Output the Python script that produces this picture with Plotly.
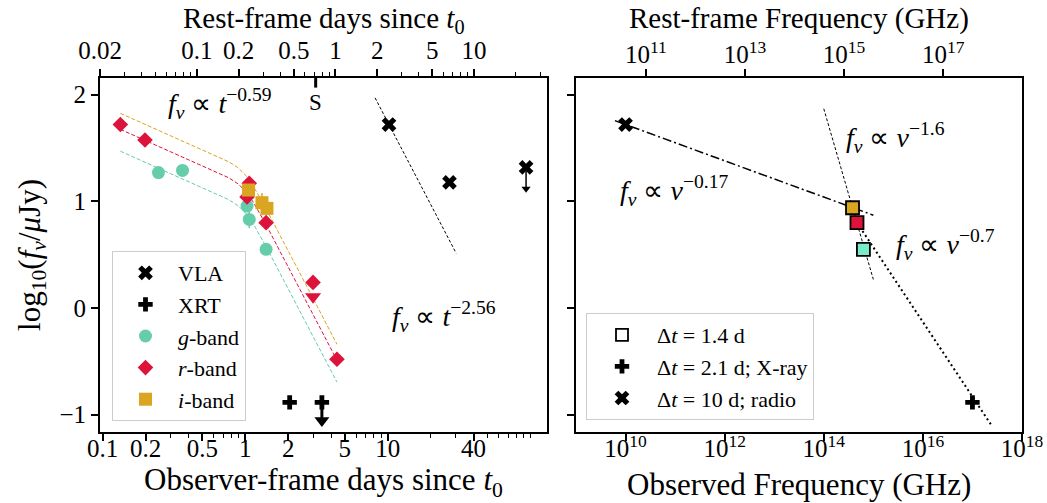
import numpy as np
import plotly.graph_objects as go

FONT = "Liberation Serif"

# ---------------- light curve (observer-frame days, log10 f_nu / uJy) ----------------
g_days = [0.246, 0.363, 1.03, 1.067, 1.40]
g_flux = [1.27, 1.29, 0.956, 0.83, 0.55]
g_err = [0.03, 0.03, 0.04, 0.08, 0.04]

r_days = [0.133, 0.198, 1.03, 1.067, 1.40, 2.99, 4.40]
r_flux = [1.72, 1.575, 1.04, 1.17, 0.80, 0.24, -0.48]
r_err = [0.03, 0.03, 0.04, 0.04, 0.04, 0.05, 0.06]

r_lim_days = [2.99]
r_lim_flux = [0.106]

i_days = [1.055, 1.31, 1.42]
i_flux = [1.106, 0.987, 0.934]
i_err = [0.03, 0.09, 0.04]

vla_days = [10.2, 27.1, 93.4]
vla_flux = [1.72, 1.178, 1.318]
vla_limit = [False, False, True]

xrt_days = [2.05, 3.45]
xrt_flux = [-0.884, -0.884]
xrt_limit = [False, True]

# broken power-law fit to the optical light curve
alpha_early = 0.59
alpha_late = 2.56
t_break = 1.0
smooth = 5.0
fit_norm = {"g": 0.953, "r": 1.158, "i": 1.308}
fit_span = (0.133, 4.4)

# radio decline, anchored on the first VLA epoch
radio_fit_span = (8.15, 30.2)

# epoch of the spectrum
spec_epoch = 3.12

# ---------------- SED at 1.4 d (log10 nu, log10 f_nu) ----------------
sed_lognu = [14.80, 14.67, 14.58]
sed_flux = [0.55, 0.80, 0.94]
sed_err = [0.02, 0.02, 0.02]
sed_colors = ["#78ecc8", "#dc143c", "#daa520"]

xray_lognu = [17.0]
xray_flux = [-0.884]
radio_lognu = [10.0]
radio_flux = [1.72]

beta_ro = 0.17          # radio -> optical
beta_ro_span = (9.785, 15.0)
beta_opt = 1.6          # within optical
beta_opt_span = (14.0, 15.0)
beta_ox = 0.7           # optical -> X-ray
beta_ox_span = (14.67, 17.4)

redshift_factor = 3.9

G_COL, R_COL, I_COL = "#66cdaa", "#dc143c", "#daa520"

Y_RANGE = [-1.162, 2.156]
X_RANGE_DAYS = [0.0957, 131.0]
X_RANGE_NU = [9.0, 18.0]

bottom_days = [0.1, 0.2, 0.5, 1, 2, 5, 10, 40]
bottom_minor = [0.3, 0.4, 0.6, 0.7, 0.8, 0.9, 3, 4, 6, 7, 8, 9, 20, 30, 50, 60, 70, 80, 90, 100]
top_days = [0.02, 0.1, 0.2, 0.5, 1, 2, 5, 10]
top_minor = [0.03, 0.04, 0.05, 0.06, 0.07, 0.08, 0.09, 0.3, 0.4, 0.6, 0.7, 0.8, 0.9, 3, 4, 6, 7, 8, 9, 20, 30]
nu_ticks = [10, 12, 14, 16, 18]
nu_rest_ticks = [11, 13, 15, 17]
y_ticks = [-1, 0, 1, 2]

fig = go.Figure()


def bpl(t, norm):
    x = np.asarray(t) / t_break
    return norm - np.log10(x ** (alpha_early * smooth) + x ** (alpha_late * smooth)) / smooth


# ---- fit curves
t_fit = np.logspace(np.log10(fit_span[0]), np.log10(fit_span[1]), 200)
for band, col in (("g", G_COL), ("r", R_COL), ("i", I_COL)):
    fig.add_trace(go.Scatter(x=t_fit, y=bpl(t_fit, fit_norm[band]), mode="lines",
                             line=dict(color=col, width=1, dash="4px,2px"),
                             showlegend=False, hoverinfo="skip", xaxis="x", yaxis="y"))

t_rad = np.array(radio_fit_span)
fig.add_trace(go.Scatter(x=t_rad, y=vla_flux[0] - alpha_late * (np.log10(t_rad) - np.log10(vla_days[0])),
                         mode="lines", line=dict(color="black", width=1, dash="3px,2px"),
                         showlegend=False, hoverinfo="skip", xaxis="x", yaxis="y"))

# carrier traces so the secondary (top) axes are laid out
fig.add_trace(go.Scatter(x=top_days, y=[None] * len(top_days), mode="markers", showlegend=False,
                         hoverinfo="skip", xaxis="x2", yaxis="y"))
fig.add_trace(go.Scatter(x=[10 ** v for v in nu_rest_ticks], y=[None] * len(nu_rest_ticks), mode="markers",
                         showlegend=False, hoverinfo="skip", xaxis="x4", yaxis="y2"))


# ---- upper-limit arrows
def limit_arrows(days, flux, flags, length, width, size, xa, ya):
    xs, ys, hx, hy = [], [], [], []
    for t, f, lim in zip(days, flux, flags):
        if lim:
            xs += [t, t, None]
            ys += [f, f - length, None]
            hx.append(t)
            hy.append(f - length)
    fig.add_trace(go.Scatter(x=xs, y=ys, mode="lines", line=dict(color="black", width=width),
                             showlegend=False, hoverinfo="skip", xaxis=xa, yaxis=ya))
    fig.add_trace(go.Scatter(x=hx, y=hy, mode="markers",
                             marker=dict(symbol="triangle-down", size=size, color="black"),
                             showlegend=False, hoverinfo="skip", xaxis=xa, yaxis=ya))


limit_arrows(vla_days, vla_flux, vla_limit, 0.2, 1.5, 8, "x", "y")
limit_arrows(xrt_days, xrt_flux, xrt_limit, 0.17, 3, 13, "x", "y")

# ---- spectrum epoch tick
fig.add_trace(go.Scatter(x=[spec_epoch, spec_epoch], y=[Y_RANGE[1], Y_RANGE[1] - 0.09], mode="lines",
                         line=dict(color="black", width=3), showlegend=False, hoverinfo="skip",
                         cliponaxis=False, xaxis="x", yaxis="y"))

# ---- light-curve markers (legend order)
fig.add_trace(go.Scatter(x=vla_days, y=vla_flux, mode="markers", name="VLA",
                         marker=dict(symbol="x", size=13, color="black"),
                         legend="legend", xaxis="x", yaxis="y"))
fig.add_trace(go.Scatter(x=xrt_days, y=xrt_flux, mode="markers", name="XRT",
                         marker=dict(symbol="cross", size=12, color="black"),
                         legend="legend", xaxis="x", yaxis="y"))
fig.add_trace(go.Scatter(x=g_days, y=g_flux, mode="markers", name="<i>g</i>-band",
                         error_y=dict(type="data", array=g_err, color=G_COL, thickness=1.5, width=0),
                         marker=dict(symbol="circle", size=13, color=G_COL),
                         legend="legend", xaxis="x", yaxis="y"))
fig.add_trace(go.Scatter(x=r_lim_days, y=r_lim_flux, mode="markers", showlegend=False,
                         marker=dict(symbol="triangle-down", size=14, color=R_COL),
                         xaxis="x", yaxis="y"))
fig.add_trace(go.Scatter(x=r_days, y=r_flux, mode="markers", name="<i>r</i>-band",
                         error_y=dict(type="data", array=r_err, color=R_COL, thickness=1.5, width=0),
                         marker=dict(symbol="diamond", size=12, color=R_COL),
                         legend="legend", xaxis="x", yaxis="y"))
fig.add_trace(go.Scatter(x=i_days, y=i_flux, mode="markers", name="<i>i</i>-band",
                         error_y=dict(type="data", array=i_err, color=I_COL, thickness=1.5, width=0),
                         marker=dict(symbol="square", size=13, color=I_COL),
                         legend="legend", xaxis="x", yaxis="y"))


# ---------------- SED panel ----------------
def power_line(anchor_nu, anchor_f, beta, span):
    nu = np.array(span)
    return 10 ** nu, anchor_f - beta * (nu - anchor_nu)


x1, y1 = power_line(radio_lognu[0], radio_flux[0], beta_ro, beta_ro_span)
fig.add_trace(go.Scatter(x=x1, y=y1, mode="lines", line=dict(color="black", width=1.5, dash="9px,3px,2px,3px"),
                         showlegend=False, hoverinfo="skip", xaxis="x3", yaxis="y2"))
x2, y2 = power_line(sed_lognu[2], sed_flux[2], beta_opt, beta_opt_span)
fig.add_trace(go.Scatter(x=x2, y=y2, mode="lines", line=dict(color="black", width=1, dash="3px,2px"),
                         showlegend=False, hoverinfo="skip", xaxis="x3", yaxis="y2"))
x3, y3 = power_line(sed_lognu[1], sed_flux[1], beta_ox, beta_ox_span)
fig.add_trace(go.Scatter(x=x3, y=y3, mode="lines", line=dict(color="black", width=2, dash="2px,3px"),
                         showlegend=False, hoverinfo="skip", xaxis="x3", yaxis="y2"))

fig.add_trace(go.Scatter(x=[10 ** v for v in sed_lognu], y=sed_flux, mode="markers", showlegend=False,
                         error_y=dict(type="data", array=sed_err, color="black", thickness=1, width=0),
                         marker=dict(symbol="square", size=13, color=sed_colors,
                                     line=dict(color="black", width=1.8)),
                         xaxis="x3", yaxis="y2"))
fig.add_trace(go.Scatter(x=[None], y=[None], mode="markers", name="Δ<i>t</i> = 1.4 d",
                         marker=dict(symbol="square", size=12, color="white", line=dict(color="black", width=1.8)),
                         legend="legend2", xaxis="x3", yaxis="y2"))
fig.add_trace(go.Scatter(x=[10 ** v for v in xray_lognu], y=xray_flux, mode="markers",
                         name="Δ<i>t</i> = 2.1 d; X-ray",
                         marker=dict(symbol="cross", size=12, color="black"),
                         legend="legend2", xaxis="x3", yaxis="y2"))
fig.add_trace(go.Scatter(x=[10 ** v for v in radio_lognu], y=radio_flux, mode="markers",
                         name="Δ<i>t</i> = 10 d; radio",
                         marker=dict(symbol="x", size=13, color="black"),
                         legend="legend2", xaxis="x3", yaxis="y2"))

# ---------------- layout ----------------
ML, MR, MT, MB = 100, 25, 78, 71
W, H = 1047, 503
PW = W - ML - MR
PH = H - MT - MB
L_DOM = [0, (547 - ML) / PW]
R_DOM = [(576 - ML) / PW, 1]

axis_common = dict(showline=True, linecolor="black", linewidth=2, ticks="outside", ticklen=7,
                   tickwidth=1.5, tickcolor="black", showgrid=False, zeroline=False, automargin=False,
                   tickfont=dict(family=FONT, size=25, color="black"))
title_font = dict(family=FONT, size=31, color="black")
top_title_font = dict(family=FONT, size=29, color="black")
minor_style = dict(ticks="outside", ticklen=4, tickwidth=1, tickcolor="black")
top_range = [np.log10(0.02), np.log10(0.02) + 447 / 138.6]

fig.update_layout(
    width=W, height=H,
    margin=dict(l=ML, r=MR, t=MT, b=MB, autoexpand=False),
    paper_bgcolor="white", plot_bgcolor="white",
    font=dict(family=FONT, size=22, color="black"),
    xaxis=dict(axis_common, domain=L_DOM, anchor="y", type="log",
               range=[np.log10(X_RANGE_DAYS[0]), np.log10(X_RANGE_DAYS[1])],
               tickmode="array", tickvals=bottom_days, ticktext=[f"{v:g}" for v in bottom_days],
               minor=dict(minor_style, tickmode="array", tickvals=bottom_minor),
               ticklabelstandoff=-14),
    xaxis2=dict(axis_common, domain=L_DOM, anchor="y", overlaying="x", side="top", type="log",
                range=top_range, tickmode="array", tickvals=top_days,
                ticktext=[f"{v:g}" for v in top_days],
                minor=dict(minor_style, tickmode="array", tickvals=top_minor)),
    yaxis=dict(axis_common, domain=[0, 1], anchor="x", mirror=True, range=Y_RANGE,
               tickmode="array", tickvals=y_ticks, ticktext=["−1", "0", "1", "2"],
               title=dict(text="log<sub>10</sub>(<i>f</i><sub><i>ν</i></sub>/<i>μ</i>Jy)", font=title_font,
                          standoff=10)),
    xaxis3=dict(axis_common, domain=R_DOM, anchor="y2", type="log", range=X_RANGE_NU,
                tickmode="array", tickvals=[10 ** v for v in nu_ticks],
                ticktext=[f"10<sup>{v}</sup>" for v in nu_ticks],
                ticklabelstandoff=-14),
    xaxis4=dict(axis_common, domain=R_DOM, anchor="y2", overlaying="x3", side="top", type="log",
                range=[X_RANGE_NU[0] + np.log10(redshift_factor), X_RANGE_NU[1] + np.log10(redshift_factor)],
                tickmode="array", tickvals=[10 ** v for v in nu_rest_ticks],
                ticktext=[f"10<sup>{v}</sup>" for v in nu_rest_ticks],
                ticklabelstandoff=-4),
    yaxis2=dict(axis_common, domain=[0, 1], anchor="x3", mirror=True, matches="y", range=Y_RANGE,
                tickmode="array", tickvals=y_ticks, showticklabels=False),
    legend=dict(x=(112 - ML) / PW, y=(432 - 421) / PH, xanchor="left", yanchor="bottom",
                bgcolor="rgba(255,255,255,0.85)", bordercolor="#cccccc", borderwidth=1,
                font=dict(family=FONT, size=22, color="black"), itemwidth=55, tracegroupgap=0),
    legend2=dict(x=(586 - ML) / PW, y=(432 - 420) / PH, xanchor="left", yanchor="bottom",
                 bgcolor="rgba(255,255,255,0.85)", bordercolor="#cccccc", borderwidth=1,
                 font=dict(family=FONT, size=22, color="black"), itemwidth=60, tracegroupgap=0),
)

ann_font = dict(family=FONT, size=28, color="black")
L_MID = (L_DOM[0] + L_DOM[1]) / 2
R_MID = (R_DOM[0] + R_DOM[1]) / 2
PAPER_TOP = 1 + MT / PH
annotations = [
    dict(x=np.log10(0.668), y=1.92, xref="x", yref="y", text="<i>f</i><sub><i>ν</i></sub> ∝ <i>t</i><sup>−0.59</sup>"),
    dict(x=np.log10(24.8), y=-0.075, xref="x", yref="y", text="<i>f</i><sub><i>ν</i></sub> ∝ <i>t</i><sup>−2.56</sup>"),
    dict(x=np.log10(spec_epoch), y=1.93, xref="x", yref="y", text="S", font=dict(family=FONT, size=23, color="black")),
    dict(x=15.44, y=1.60, xref="x3", yref="y2", text="<i>f</i><sub><i>ν</i></sub> ∝ <i>ν</i><sup>−1.6</sup>"),
    dict(x=10.97, y=1.10, xref="x3", yref="y2", text="<i>f</i><sub><i>ν</i></sub> ∝ <i>ν</i><sup>−0.17</sup>"),
    dict(x=16.45, y=0.60, xref="x3", yref="y2", text="<i>f</i><sub><i>ν</i></sub> ∝ <i>ν</i><sup>−0.7</sup>"),
    # axis titles
    dict(x=L_MID, y=-50 / PH, xref="paper", yref="paper",
         text="Observer-frame days since <i>t</i><sub>0</sub>", font=title_font),
    dict(x=R_MID, y=-52 / PH, xref="paper", yref="paper",
         text="Observed Frequency (GHz)", font=title_font),
    dict(x=L_MID, y=PAPER_TOP, xref="paper", yref="paper", yanchor="top",
         text="Rest-frame days since <i>t</i><sub>0</sub>", font=top_title_font),
    dict(x=R_MID, y=PAPER_TOP, xref="paper", yref="paper", yanchor="top",
         text="Rest-frame Frequency (GHz)", font=top_title_font),
]
for a in annotations:
    a.setdefault("font", ann_font)
    a.setdefault("yanchor", "middle")
    a.update(showarrow=False, xanchor="center")
fig.update_layout(annotations=annotations)

fig.write_html("out.html")
